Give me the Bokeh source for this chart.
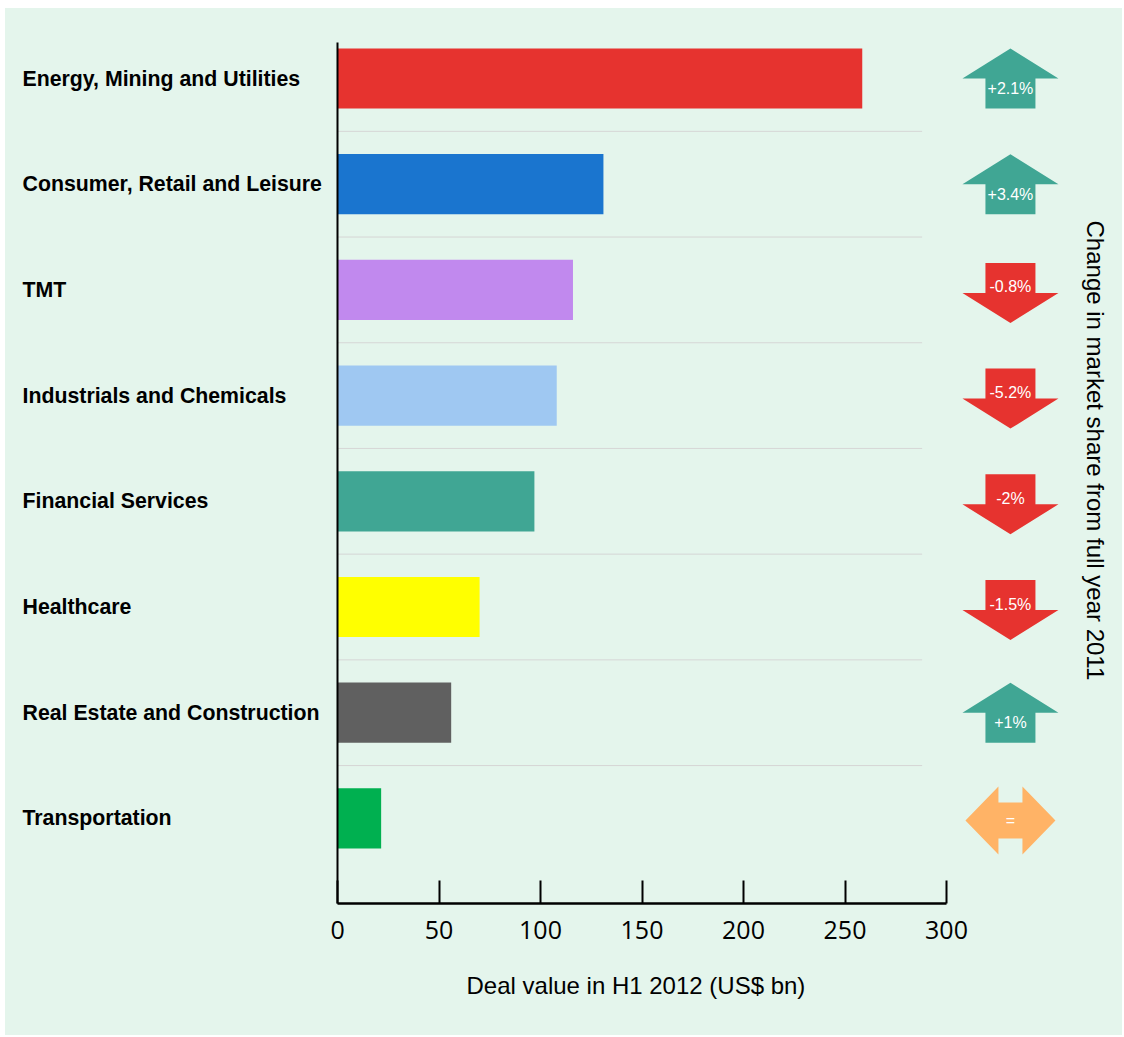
from bokeh.plotting import figure
from bokeh.models import Range1d, FixedTicker, ColumnDataSource, Title
from bokeh.layouts import row
from bokeh.core.properties import value
from bokeh.embed import file_html
from bokeh.resources import INLINE

# ---- data ----
categories = ["Energy, Mining and Utilities", "Consumer, Retail and Leisure", "TMT",
              "Industrials and Chemicals", "Financial Services", "Healthcare",
              "Real Estate and Construction", "Transportation"]
deal_values = [258.5, 131, 116, 108, 97, 70, 56, 21.5]
share_change = ["+2.1%", "+3.4%", "-0.8%", "-5.2%", "-2%", "-1.5%", "+1%", "="]
direction = ["up", "up", "down", "down", "down", "down", "up", "flat"]
bar_colors = ["#e6332f", "#1a75cf", "#c189ee", "#9fc8f2", "#40a694", "#ffff00", "#606060", "#00b050"]
x_ticks = [0, 50, 100, 150, 200, 250, 300]
x_label = "Deal value in H1 2012 (US$ bn)"
right_label = "Change in market share from full year 2011"

# ---- style / layout ----
BG = "#e4f5ec"
H = 1027
LW = 325                 # width of label column
MW = 1117 - LW           # width of main chart
BL, BT, BR, BB = 7, 34, 52, 132
FW = MW - BL - BR        # frame width (px)
X_END = FW / 2.03        # 2.03 px per bn
PITCH = 105.7
Y_TOP = -(78 - 42) / PITCH
Y_BOT = (903 - 78) / PITCH
kx = X_END / FW
ky = (Y_BOT - Y_TOP) / (H - BT - BB)
ARROW_X = 331.5
TEAL, RED, ORANGE = "#40a694", "#e6332f", "#ffb366"
FONT = value("Liberation Sans")

y_range = Range1d(Y_BOT, Y_TOP)
ys = list(range(len(categories)))
src = ColumnDataSource(dict(cat=categories, y=ys, v=deal_values, color=bar_colors))


def base_style(f):
    f.background_fill_color = BG
    f.border_fill_color = BG
    f.outline_line_color = None
    f.xgrid.visible = False
    f.ygrid.visible = False


# ---- left column with category names ----
left = figure(width=LW, height=H, output_backend="svg", toolbar_location=None,
              x_range=Range1d(0, LW), y_range=y_range, x_axis_type=None, y_axis_type=None,
              min_border_left=0, min_border_right=0, min_border_top=BT, min_border_bottom=BB)
base_style(left)
left.text(x=17, y="y", text="cat", source=src, text_font=FONT, text_font_style="bold",
          text_font_size="21.3px", text_align="left", text_baseline="middle", text_color="black")

# ---- main chart ----
p = figure(width=MW, height=H, output_backend="svg", toolbar_location=None,
           x_range=Range1d(0, X_END), y_range=y_range,
           min_border_left=BL, min_border_top=BT, min_border_right=BR, min_border_bottom=BB)
base_style(p)

seps = [i + 0.5 for i in ys[:-1]]
p.segment(x0=0, x1=288, y0=seps, y1=seps, line_color="#d6d6d6", line_width=1)
p.hbar(y="y", left=0, right="v", height=0.57, color="color", source=src, line_color=None)

xa = p.xaxis[0]
xa.ticker = FixedTicker(ticks=x_ticks)
xa.bounds = (0, 300)
xa.axis_line_color = "black"
xa.axis_line_width = 2.5
xa.major_tick_line_color = "black"
xa.major_tick_line_width = 2
xa.major_tick_in = 23
xa.major_tick_out = 0
xa.minor_tick_line_color = None
xa.major_label_text_font = "Open Sans"
xa.major_label_text_font_size = "25px"
xa.major_label_text_color = "black"
xa.major_label_standoff = 17

p.add_layout(Title(text=x_label, align="left", offset=129, standoff=60,
                   vertical_align="top",
                   text_font="Liberation Sans", text_font_size="24px",
                   text_font_style="normal", text_color="black"), "below")

ya = p.yaxis[0]
ya.ticker = FixedTicker(ticks=[])
ya.axis_line_color = "black"
ya.axis_line_width = 2
ya.major_tick_line_color = None
ya.minor_tick_line_color = None
ya.major_tick_out = 0
ya.major_tick_in = 0
ya.major_label_standoff = 0
ya.axis_label_standoff = 0
ya.major_label_text_font_size = "0px"

# arrows
up_shape = [(0, -30), (48, 0), (25, 0), (25, 30), (-25, 30), (-25, 0), (-48, 0)]
down_shape = [(-25, -30), (25, -30), (25, 0), (48, 0), (0, 30), (-48, 0), (-25, 0)]
flat_shape = [(-45, 0), (-12, -34), (-12, -18), (12, -18), (12, -34), (45, 0),
              (12, 34), (12, 18), (-12, 18), (-12, 34)]
axs, ays, acol, tx, ty = [], [], [], [], []
for i, d in enumerate(direction):
    if d == "up":
        shape, cy, col, toff = up_shape, 0, TEAL, 10
    elif d == "down":
        shape, cy, col, toff = down_shape, 3, RED, -6
    else:
        shape, cy, col, toff = flat_shape, 2, ORANGE, 0
    axs.append([ARROW_X + dx * kx for dx, dy in shape])
    ays.append([i + (cy + dy) * ky for dx, dy in shape])
    acol.append(col)
    tx.append(ARROW_X)
    ty.append(i + (cy + toff) * ky)
p.patches(xs=axs, ys=ays, fill_color=acol, line_color=None)
tsrc = ColumnDataSource(dict(x=tx, y=ty, t=share_change))
p.text(x="x", y="y", text="t", source=tsrc, text_color="white", text_font=FONT,
       text_font_size="16px", text_align="center", text_baseline="middle")

# right-hand title
p.add_layout(Title(text=right_label, align="left", offset=178, standoff=20,
                   vertical_align="middle",
                   text_font="Liberation Sans", text_font_size="24px",
                   text_font_style="normal", text_color="black"), "right")

layout = row(left, p, spacing=0)
layout.margin = (8, 2, 2, 5)
layout.styles = {"background-color": BG}

open("out.html", "w").write(file_html(layout, INLINE))
